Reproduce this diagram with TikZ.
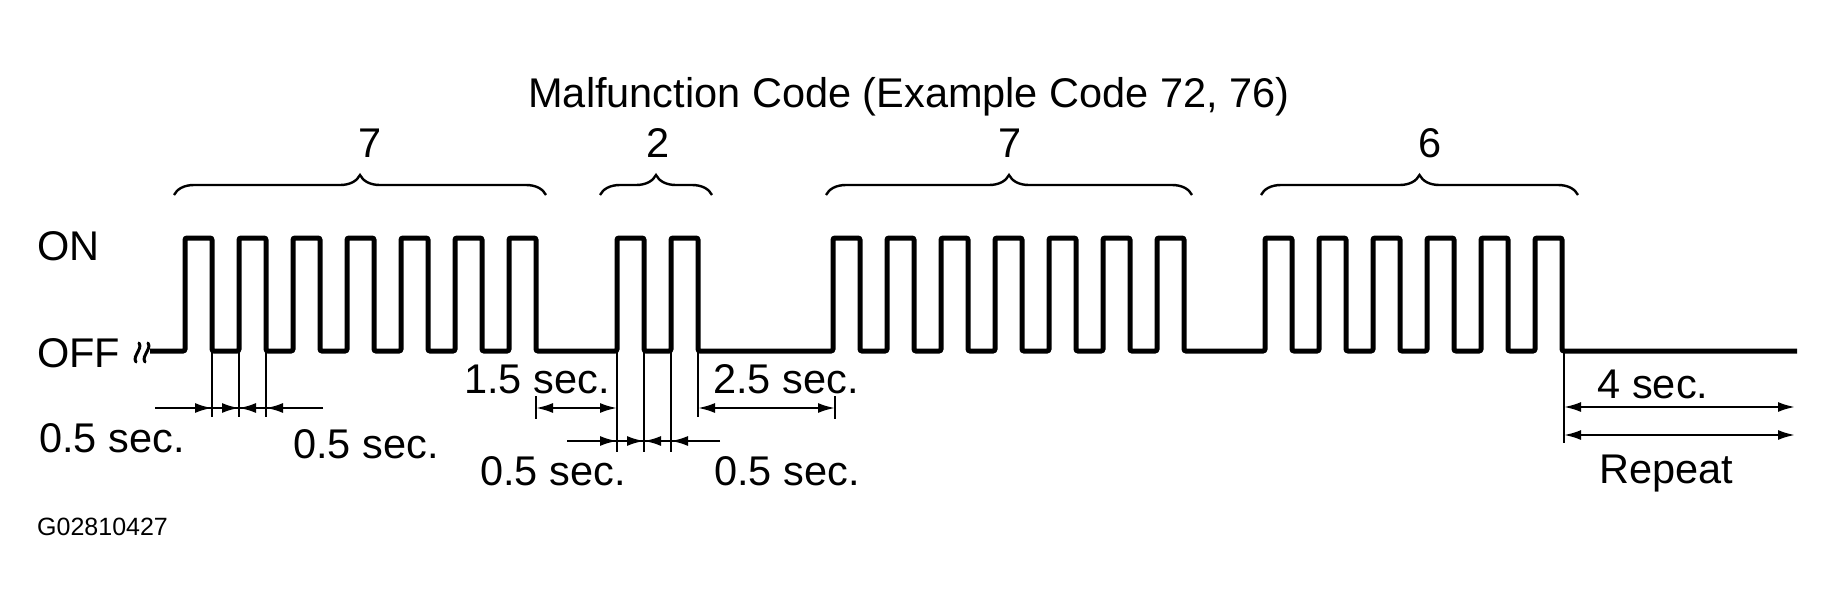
\documentclass[tikz,border=0pt]{standalone}
\usepackage{fontspec}
\setmainfont{Liberation Sans}
\usepackage{tikz}
\usetikzlibrary{arrows.meta,decorations.pathreplacing,calc}

\begin{document}
\begin{tikzpicture}[x=1pt, y=-1pt,
    every node/.style={inner sep=0pt, font=\fontsize{41.5}{48}\selectfont},
    signal/.style={line width=5pt, rounded corners=2pt},
    hilfslinie/.style={line width=2.2pt},
    masspfeil/.style={line width=2.2pt, -{Latex[length=17pt,width=10pt]}},
    doppelpfeil/.style={line width=2.2pt, {Latex[length=17pt,width=10pt]}-{Latex[length=17pt,width=10pt]}},
    klammer/.style={line width=2.4pt, decorate, decoration={brace, amplitude=20pt}}]
    \useasboundingbox (0,0) rectangle (1831,611);

    % Titel und Ziffern
    \node[anchor=base] (titel) at (909,107) {Malfunction Code (Example Code 72, 76)};
    \foreach \a/\b/\x/\d [count=\i] in {174/546/370/7, 600/712/658/2, 826/1192/1010/7, 1261/1578/1430/6} {
        \coordinate (ka\i) at (\a,195);
        \coordinate (kb\i) at (\b,195);
        \draw[klammer] (ka\i) -- (kb\i);
        \node[anchor=base] (ziffer\i) at (\x,157) {\d};
    }

    % Pegel
    \node[anchor=base west] (on) at (37,260) {ON};
    \node[anchor=base west] (off) at (37,367) {OFF};

    % Unterbrechung
    \draw[line width=3pt, line cap=round] (139,343) .. controls (143,350) and (132,355) .. (136,362);
    \draw[line width=3pt, line cap=round] (148,343) .. controls (152,350) and (141,355) .. (145,362);

    % Signal
    \draw[signal] (150,351) \foreach \s/\n in {0/7, 8/2, 12/7, 20/6} {
        -- ({185+54*\s},351)
        \foreach \k in {1,...,\n} { -- ++(0,-113) -- ++(27,0) -- ++(0,113) -- ++(27,0) }
    } -- (1797,351);

    % Hilfslinien
    \coordinate (f1) at (212,351);
    \coordinate (r2) at (239,351);
    \coordinate (f2) at (266,351);
    \coordinate (e1) at (536,351);
    \coordinate (s2) at (617,351);
    \coordinate (f3) at (644,351);
    \coordinate (r4) at (671,351);
    \coordinate (e2) at (698,351);
    \coordinate (s3) at (835,351);
    \coordinate (e4) at (1564,351);
    \foreach \p in {f1,r2,f2} \draw[hilfslinie] (\p) -- ++(0,66);
    \foreach \p in {s2,f3,r4} \draw[hilfslinie] (\p) -- ++(0,101);
    \draw[hilfslinie] (e2) -- ++(0,66);
    \draw[hilfslinie] (e4) -- ++(0,92);
    \foreach \p in {e1,s3} \draw[hilfslinie] ($(\p)+(0,45)$) -- ($(\p)+(0,68)$);

    % Masslinien 0.5 sec.
    \coordinate (m0) at (155,408);
    \coordinate (m4) at (323,408);
    \draw[hilfslinie] (m0) -- (m4);
    \foreach \von/\nach in {m0/f1, m4/f2, f1/r2, f2/r2} \draw[masspfeil] (\von |- m0) -- (\nach |- m0);
    \coordinate (n0) at (567,441);
    \coordinate (n4) at (720,441);
    \draw[hilfslinie] (n0) -- (n4);
    \foreach \von/\nach in {n0/s2, n4/r4, s2/f3, r4/f3} \draw[masspfeil] (\von |- n0) -- (\nach |- n0);

    % Pausen
    \coordinate (w1) at (1795,407);
    \coordinate (w2) at (1795,435);
    \draw[doppelpfeil] (e1 |- m0) -- (s2 |- m0);
    \draw[doppelpfeil] (e2 |- m0) -- (s3 |- m0);
    \draw[doppelpfeil] (e4 |- w1) -- (w1);
    \draw[doppelpfeil] (e4 |- w2) -- (w2);

    % Beschriftungen
    \node[anchor=base] (halb1) at (112,452) {0.5 sec.};
    \node[anchor=base] (halb2) at (366,458) {0.5 sec.};
    \node[anchor=base] (halb3) at (553,485) {0.5 sec.};
    \node[anchor=base] (halb4) at (787,485) {0.5 sec.};
    \node[anchor=base] (pause1) at (537,393) {1.5 sec.};
    \node[anchor=base] (pause2) at (786,393) {2.5 sec.};
    \node[anchor=base] (pause3) at (1653,398) {4 sec.};
    \node[anchor=base] (repeat) at (1666,483) {Repeat};
    \node[anchor=base west, font=\fontsize{25}{30}\selectfont] (bildnr) at (37,535) {G02810427};
\end{tikzpicture}
\end{document}
